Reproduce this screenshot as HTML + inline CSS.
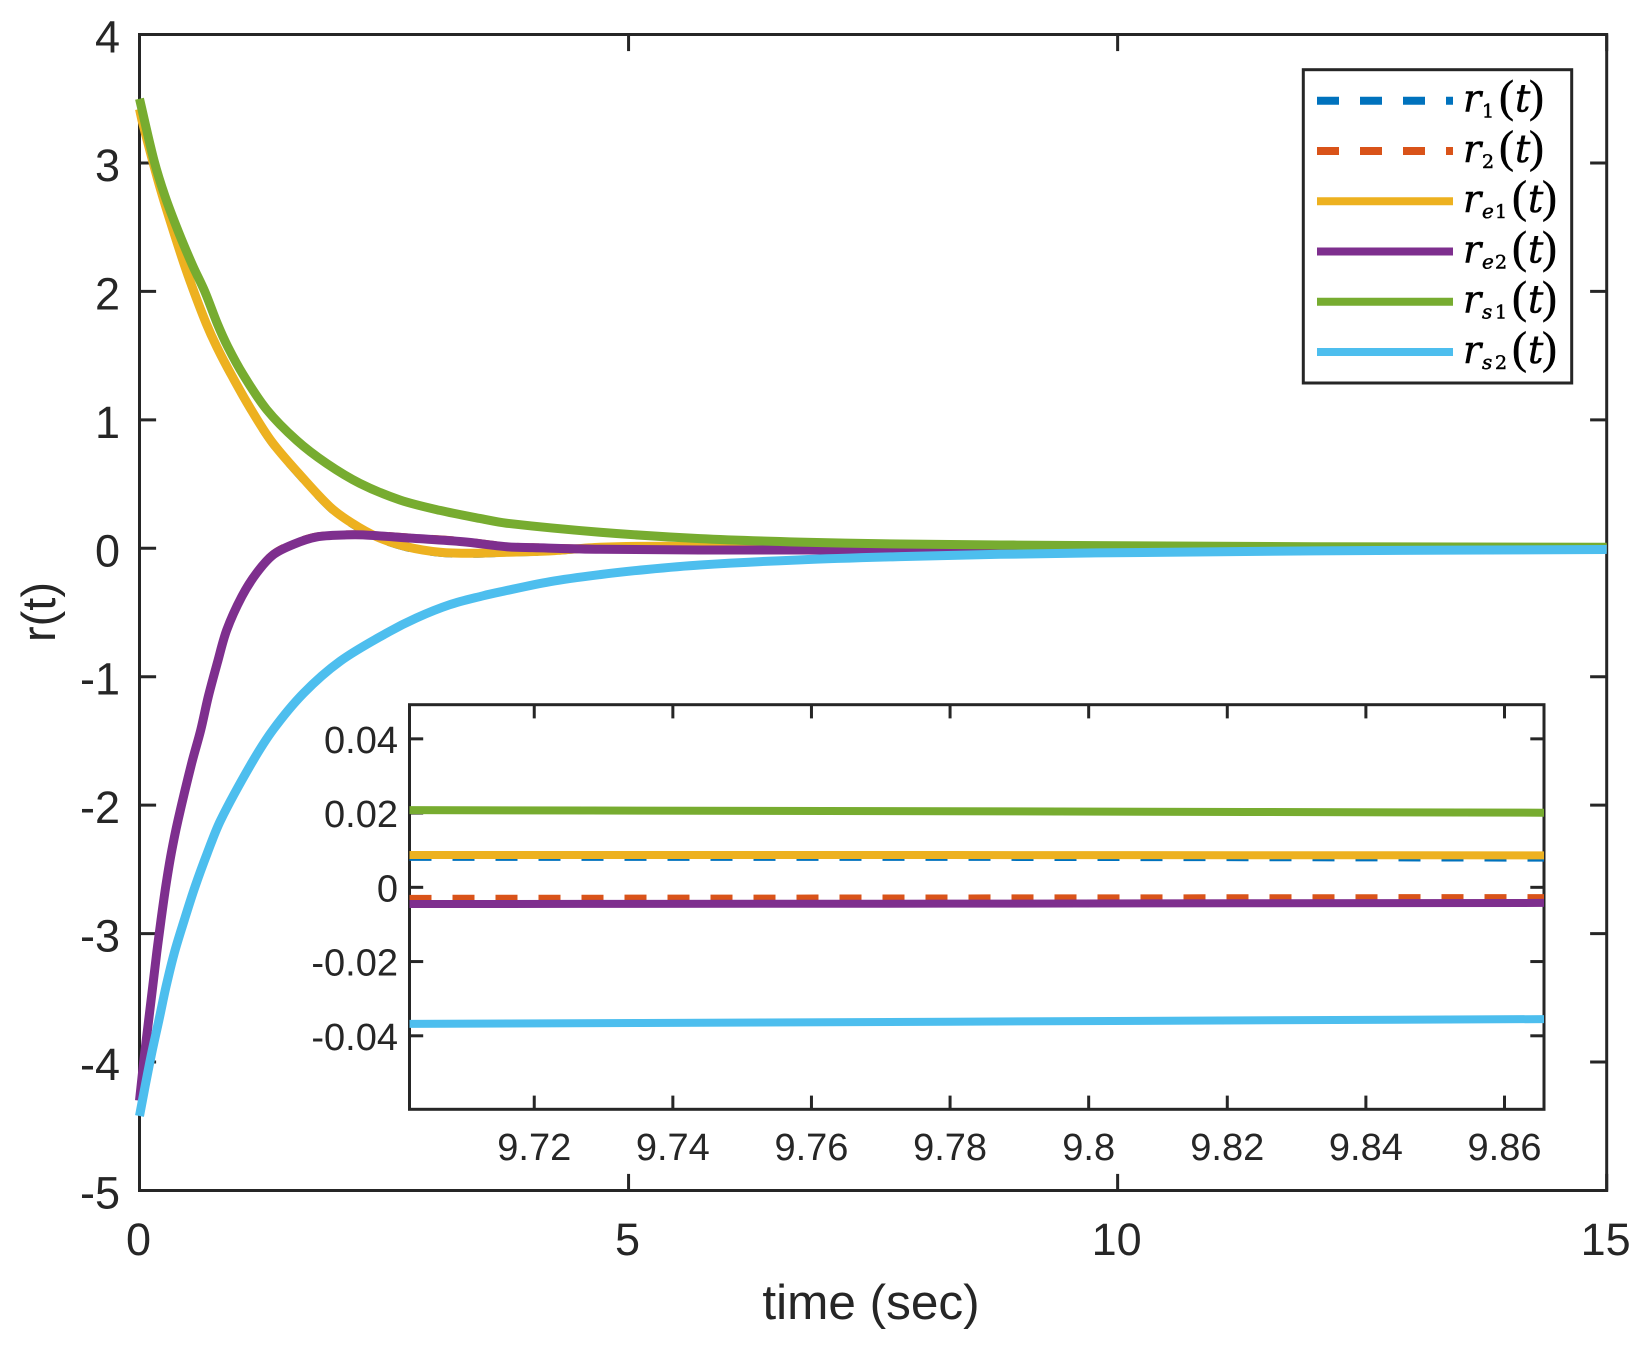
<!DOCTYPE html>
<html lang="en">
<head>
<meta charset="utf-8">
<title>r(t) vs time</title>
<style>
html,body{margin:0;padding:0;background:#fff;overflow:hidden}
svg{display:block}
.lab{font-family:"Liberation Sans",sans-serif;fill:#262626}
.math{font-family:"DejaVu Serif",serif;fill:#000;stroke:#000;stroke-width:.5px}
</style>
</head>
<body>
<svg id="chart" xmlns="http://www.w3.org/2000/svg" width="1648" height="1346" viewBox="0 0 1648 1346">
  <rect x="0" y="0" width="1648" height="1346" fill="#fff"/>
  <g id="main-axes"></g>
  <g id="main-series"></g>
  <text class="lab" x="871" y="1319" font-size="49.5" text-anchor="middle">time (sec)</text>
  <text class="lab" x="0" y="0" font-size="47" text-anchor="middle" transform="translate(55 612) rotate(-90)">r(t)</text>
  <g id="inset">
    <rect x="409.5" y="704.7" width="1134.5" height="404.6" fill="#fff"/>
    <g id="inset-axes"></g>
    <g id="inset-series"></g>
  </g>
  <g id="legend">
    <rect x="1303.3" y="69.7" width="268.4" height="313.3" fill="#fff" stroke="#262626" stroke-width="3"/>
    <g id="legend-entries"></g>
  </g>
</svg>
<script>
// ---- main chart data (time in sec, value of r) ----
const mainXTicks = [0, 5, 10, 15];
const mainXLabels = ['0', '5', '10', '15'];
const mainYTicks = [4, 3, 2, 1, 0, -1, -2, -3, -4, -5];
const mainYLabels = ['4', '3', '2', '1', '0', '-1', '-2', '-3', '-4', '-5'];

const timeE1 = [0, 0.033, 0.217, 0.431, 0.55, 0.68, 0.789, 0.943, 1.137, 1.352, 1.624, 1.948, 2.17, 2.425, 2.732, 3.072, 3.41, 3.754, 4.2, 4.708, 5.4, 6, 8, 9.78, 12, 15];
const r1Main = [3.415, 3.304, 2.785, 2.265, 2.006, 1.75, 1.565, 1.34, 1.08, 0.825, 0.581, 0.317, 0.192, 0.085, 0.007, -0.035, -0.043, -0.034, -0.023, 0.005, 0.013, 0.005, 0.007, 0.0082, 0.0035, 0.001];
const re1Main = [3.42, 3.309, 2.789, 2.27, 2.011, 1.754, 1.57, 1.345, 1.085, 0.83, 0.586, 0.322, 0.197, 0.09, 0.012, -0.031, -0.039, -0.031, -0.02, 0.008, 0.016, 0.006, 0.008, 0.0087, 0.004, 0.001];

const timeE2 = [0, 0.015, 0.053, 0.094, 0.135, 0.176, 0.22, 0.268, 0.325, 0.394, 0.534, 0.626, 0.703, 0.795, 0.892, 1.045, 1.198, 1.368, 1.572, 1.812, 2.118, 2.285, 2.796, 3.307, 3.754, 4.02, 4.71, 5.73, 7.09, 8.11, 9.78, 12, 15];
const r2Main = [-4.295, -4.19, -3.925, -3.668, -3.409, -3.146, -2.89, -2.63, -2.369, -2.11, -1.668, -1.41, -1.15, -0.89, -0.632, -0.373, -0.188, -0.046, 0.035, 0.092, 0.108, 0.108, 0.082, 0.055, 0.015, 0.008, -0.005, -0.01, -0.01, -0.008, -0.003, -0.001, 0];
const re2Main = [-4.3, -4.194, -3.929, -3.672, -3.413, -3.15, -2.894, -2.635, -2.373, -2.116, -1.672, -1.415, -1.156, -0.894, -0.636, -0.377, -0.192, -0.05, 0.03, 0.088, 0.104, 0.104, 0.078, 0.051, 0.012, 0.005, -0.008, -0.013, -0.013, -0.01, -0.0044, -0.002, 0];

const timeS1 = [0, 0.148, 0.261, 0.4, 0.544, 0.667, 0.795, 0.902, 1.061, 1.3, 1.607, 1.914, 2.254, 2.663, 3.072, 3.481, 3.754, 4.708, 5.73, 6.75, 7.78, 8.8, 9.78, 12, 15];
const rs1Main = [3.5, 3.02, 2.74, 2.46, 2.2, 2.0, 1.75, 1.57, 1.35, 1.08, 0.84, 0.66, 0.505, 0.376, 0.295, 0.232, 0.195, 0.125, 0.075, 0.048, 0.033, 0.026, 0.0205, 0.012, 0.008];

const timeS2 = [0, 0.056, 0.125, 0.199, 0.271, 0.356, 0.458, 0.567, 0.693, 0.83, 1.147, 1.368, 1.675, 2.05, 2.527, 2.83, 3.17, 3.512, 3.686, 4.197, 4.708, 5.186, 5.73, 6.753, 7.775, 8.797, 9.78, 12, 15];
const rs2Main = [-4.42, -4.194, -3.929, -3.672, -3.413, -3.15, -2.894, -2.636, -2.373, -2.116, -1.672, -1.41, -1.13, -0.88, -0.66, -0.543, -0.44, -0.37, -0.34, -0.26, -0.205, -0.165, -0.13, -0.09, -0.065, -0.047, -0.0362, -0.02, -0.01];

// ---- inset data ----
const insetXTicks = [9.72, 9.74, 9.76, 9.78, 9.8, 9.82, 9.84, 9.86];
const insetXLabels = ['9.72', '9.74', '9.76', '9.78', '9.8', '9.82', '9.84', '9.86'];
const insetYTicks = [0.04, 0.02, 0, -0.02, -0.04];
const insetYLabels = ['0.04', '0.02', '0', '-0.02', '-0.04'];
const insetTime = [9.702, 9.78, 9.8657];
const r1Inset = [0.0082, 0.0082, 0.008];
const r2Inset = [-0.0031, -0.003, -0.0029];
const re1Inset = [0.0087, 0.0087, 0.0086];
const re2Inset = [-0.0045, -0.0044, -0.0042];
const rs1Inset = [0.0208, 0.0205, 0.0201];
const rs2Inset = [-0.0368, -0.0362, -0.0355];

// ---- legend ----
const legendNames = ['r1', 'r2', 're1', 're2', 'rs1', 'rs2'];
const legendSubLetters = ['', '', 'e', 'e', 's', 's'];
const legendSubDigits = ['1', '2', '1', '2', '1', '2'];
const colors = ['#0072bd', '#d95319', '#edb120', '#7e2f8e', '#77ac30', '#4dbeee'];

const NS = 'http://www.w3.org/2000/svg';
const INK = '#262626';

function linear(d0, d1, r0, r1) {
  return function (v) { return r0 + (v - d0) * (r1 - r0) / (d1 - d0); };
}
const xMain = linear(0, 15, 139.5, 1606.7);
const yMain = linear(-5, 4, 1190.5, 34.5);
const xInset = linear(9.702, 9.8657, 409.5, 1544);
const yInset = linear(-0.0598, 0.0492, 1109.3, 704.7);

// Smooth path through the data points (chord-length Catmull-Rom)
function smoothPath(pts) {
  let d = 'M' + pts[0][0].toFixed(2) + ' ' + pts[0][1].toFixed(2);
  function dist(a, b) { return Math.hypot(a[0] - b[0], a[1] - b[1]) || 1e-6; }
  function tangent(i) {
    const a = pts[Math.max(i - 1, 0)];
    const b = pts[Math.min(i + 1, pts.length - 1)];
    const l = dist(a, b);
    return [(b[0] - a[0]) / l, (b[1] - a[1]) / l];
  }
  for (let i = 0; i < pts.length - 1; i++) {
    const p = pts[i], q = pts[i + 1];
    const len = dist(p, q) / 3;
    const tp = tangent(i), tq = tangent(i + 1);
    d += 'C' + (p[0] + tp[0] * len).toFixed(2) + ' ' + (p[1] + tp[1] * len).toFixed(2) + ' ' +
         (q[0] - tq[0] * len).toFixed(2) + ' ' + (q[1] - tq[1] * len).toFixed(2) + ' ' +
         q[0].toFixed(2) + ' ' + q[1].toFixed(2);
  }
  return d;
}

function drawSeries(parent, ts, vs, xf, yf, color, dashed, width, name) {
  const el = document.createElementNS(NS, 'path');
  
  
  el.setAttribute('d', smoothPath(ts.map(function (t, i) { return [xf(t), yf(vs[i])]; })));
  el.setAttribute('fill', 'none');
  el.setAttribute('stroke', color);
  el.setAttribute('stroke-width', width);
  el.setAttribute('stroke-linejoin', 'round');
  if (dashed) el.setAttribute('stroke-dasharray', '22 21');
  parent.appendChild(el);
}

function drawSeg(parent, x1, y1, x2, y2, name) {
  const el = document.createElementNS(NS, 'line');
  
  
  el.setAttribute('x1', x1);
  el.setAttribute('y1', y1);
  el.setAttribute('x2', x2);
  el.setAttribute('y2', y2);
  el.setAttribute('stroke', INK);
  el.setAttribute('stroke-width', '3');
  parent.appendChild(el);
}

function drawLabel(parent, x, y, str, size, anchor, name) {
  const el = document.createElementNS(NS, 'text');
  
  
  el.setAttribute('class', 'lab');
  el.setAttribute('x', x);
  el.setAttribute('y', y);
  el.setAttribute('font-size', size);
  el.setAttribute('text-anchor', anchor);
  el.textContent = str;
  parent.appendChild(el);
}

function drawAxes(parent, box, xTicks, xLabels, yTicks, yLabels, xf, yf, tickLen, cfg) {
  const boxEl = document.createElementNS(NS, 'rect');
  
  
  boxEl.setAttribute('x', box.l);
  boxEl.setAttribute('y', box.t);
  boxEl.setAttribute('width', box.r - box.l);
  boxEl.setAttribute('height', box.b - box.t);
  boxEl.setAttribute('fill', 'none');
  boxEl.setAttribute('stroke', INK);
  boxEl.setAttribute('stroke-width', '3');
  parent.appendChild(boxEl);
  xTicks.forEach(function (t, i) {
    const x = xf(t);
    drawSeg(parent, x, box.b, x, box.b - tickLen, cfg.prefix + '-x-tick-bottom');
    drawSeg(parent, x, box.t, x, box.t + tickLen, cfg.prefix + '-x-tick-top');
    drawLabel(parent, x + cfg.xShift, cfg.xBase, xLabels[i], cfg.size, 'middle', cfg.prefix + '-x-tick-label');
  });
  yTicks.forEach(function (v, i) {
    const y = yf(v);
    drawSeg(parent, box.l, y, box.l + tickLen, y, cfg.prefix + '-y-tick-left');
    drawSeg(parent, box.r, y, box.r - tickLen, y, cfg.prefix + '-y-tick-right');
    drawLabel(parent, cfg.yEnd, y + cfg.yOff, yLabels[i], cfg.size, 'end', cfg.prefix + '-y-tick-label');
  });
}

drawAxes(document.getElementById('main-axes'), { l: 139.5, r: 1606.7, t: 34.5, b: 1190.5 },
  mainXTicks, mainXLabels, mainYTicks, mainYLabels, xMain, yMain, 16.6,
  { prefix: 'main', size: 45, xBase: 1255, yEnd: 120, yOff: 18, xShift: -1 });

drawAxes(document.getElementById('inset-axes'), { l: 409.5, r: 1544, t: 704.7, b: 1109.3 },
  insetXTicks, insetXLabels, insetYTicks, insetYLabels, xInset, yInset, 13.7,
  { prefix: 'inset', size: 38, xBase: 1160, yEnd: 398, yOff: 14, xShift: 0 });

const mainG = document.getElementById('main-series');
drawSeries(mainG, timeE1, r1Main, xMain, yMain, colors[0], true, 8, 'series-r1');
drawSeries(mainG, timeE2, r2Main, xMain, yMain, colors[1], true, 8, 'series-r2');
drawSeries(mainG, timeE1, re1Main, xMain, yMain, colors[2], false, 9, 'series-re1');
drawSeries(mainG, timeE2, re2Main, xMain, yMain, colors[3], false, 9, 'series-re2');
drawSeries(mainG, timeS1, rs1Main, xMain, yMain, colors[4], false, 9, 'series-rs1');
drawSeries(mainG, timeS2, rs2Main, xMain, yMain, colors[5], false, 9, 'series-rs2');

const insetG = document.getElementById('inset-series');
drawSeries(insetG, insetTime, r1Inset, xInset, yInset, colors[0], true, 8, 'inset-series-r1');
drawSeries(insetG, insetTime, r2Inset, xInset, yInset, colors[1], true, 8, 'inset-series-r2');
drawSeries(insetG, insetTime, re1Inset, xInset, yInset, colors[2], false, 8, 'inset-series-re1');
drawSeries(insetG, insetTime, re2Inset, xInset, yInset, colors[3], false, 8, 'inset-series-re2');
drawSeries(insetG, insetTime, rs1Inset, xInset, yInset, colors[4], false, 8, 'inset-series-rs1');
drawSeries(insetG, insetTime, rs2Inset, xInset, yInset, colors[5], false, 8, 'inset-series-rs2');

function mathSpan(parent, x, y, str, size, italic, family) {
  const s = document.createElementNS(NS, 'tspan');
  s.setAttribute('x', x);
  s.setAttribute('y', y);
  s.setAttribute('font-size', size);
  s.setAttribute('font-style', italic ? 'italic' : 'normal');
  if (family) s.setAttribute('font-family', family);
  s.textContent = str;
  parent.appendChild(s);
}

const legendG = document.getElementById('legend-entries');
legendNames.forEach(function (n, i) {
  const y = 100.7 + i * 50.25;
  const sample = document.createElementNS(NS, 'line');
  
  
  sample.setAttribute('x1', 1317);
  sample.setAttribute('x2', 1453);
  sample.setAttribute('y1', y);
  sample.setAttribute('y2', y);
  sample.setAttribute('stroke', colors[i]);
  sample.setAttribute('stroke-width', '8');
  if (i < 2) sample.setAttribute('stroke-dasharray', '22 21');
  legendG.appendChild(sample);

  const txt = document.createElementNS(NS, 'text');
  
  
  txt.setAttribute('class', 'math');
  const base = y + 11;
  const letter = legendSubLetters[i];
  const shift = letter ? 13 : 0;
  mathSpan(txt, 1463, base, 'r', 38, true, null);
  if (letter) mathSpan(txt, 1482, base + 6, letter, 20, true, null);
  mathSpan(txt, 1482 + shift, base + 6, legendSubDigits[i], 19, false, null);
  mathSpan(txt, 1499 + shift, base, '(', 45, false, '"Liberation Serif", serif');
  mathSpan(txt, 1515 + shift, base, 't', 38, true, null);
  mathSpan(txt, 1529 + shift, base, ')', 45, false, '"Liberation Serif", serif');
  legendG.appendChild(txt);
});
</script>
</body>
</html>
